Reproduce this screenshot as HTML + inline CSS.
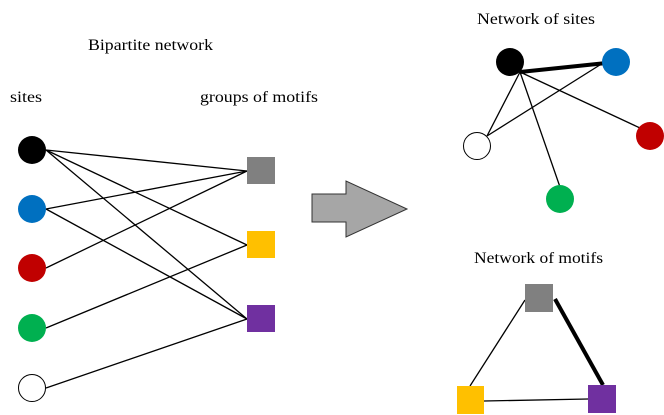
<!DOCTYPE html>
<html><head><style>html,body{margin:0;padding:0;background:#fff;}svg{display:block}</style></head><body>
<svg width="664" height="415" xmlns="http://www.w3.org/2000/svg" font-family="Liberation Serif, serif" font-size="16" fill="#000">
<text x="88" y="50" textLength="125" lengthAdjust="spacingAndGlyphs">Bipartite network</text>
<text x="10" y="102" textLength="32" lengthAdjust="spacingAndGlyphs">sites</text>
<text x="200" y="102" textLength="118" lengthAdjust="spacingAndGlyphs">groups of motifs</text>
<text x="477" y="24" textLength="118" lengthAdjust="spacingAndGlyphs">Network of sites</text>
<text x="474" y="263" textLength="129" lengthAdjust="spacingAndGlyphs">Network of motifs</text>
<g stroke="#000" stroke-width="1.3">
<line x1="46" y1="150" x2="247" y2="171"/>
<line x1="46" y1="150" x2="247" y2="245"/>
<line x1="46" y1="150" x2="247" y2="319"/>
<line x1="46" y1="209" x2="247" y2="171"/>
<line x1="46" y1="209" x2="247" y2="319"/>
<line x1="46" y1="268" x2="247" y2="171"/>
<line x1="46" y1="328" x2="247" y2="245"/>
<line x1="46" y1="388" x2="247" y2="319"/>
</g>
<circle cx="32" cy="150" r="14" fill="#000"/>
<circle cx="32" cy="209" r="14" fill="#0070c0"/>
<circle cx="32" cy="268" r="14" fill="#c00000"/>
<circle cx="32" cy="328" r="14" fill="#00b050"/>
<circle cx="32" cy="388" r="13.5" fill="#fff" stroke="#000" stroke-width="1"/>
<rect x="247" y="157" width="28" height="27" fill="#808080"/>
<rect x="247" y="231" width="28" height="27" fill="#ffc000"/>
<rect x="247" y="305" width="28" height="27" fill="#7030a0"/>
<polygon points="312,194 346,194 346,181 407,209 346,237 346,222 312,222" fill="#a6a6a6" stroke="#333" stroke-width="1"/>
<g stroke="#000" stroke-width="1.3">
<line x1="520" y1="72" x2="616" y2="62" stroke-width="4"/>
<line x1="520" y1="72" x2="487" y2="136"/>
<line x1="520" y1="72" x2="560" y2="187"/>
<line x1="520" y1="72" x2="640" y2="128"/>
<line x1="603" y1="63" x2="487" y2="136"/>
</g>
<circle cx="510" cy="62" r="14" fill="#000"/>
<circle cx="616" cy="62" r="14" fill="#0070c0"/>
<circle cx="650" cy="136" r="14" fill="#c00000"/>
<circle cx="477" cy="146" r="13.5" fill="#fff" stroke="#000" stroke-width="1"/>
<circle cx="560" cy="199" r="14" fill="#00b050"/>
<g stroke="#000">
<line x1="525" y1="300" x2="470" y2="386" stroke-width="1.3"/>
<line x1="555" y1="299" x2="603" y2="385" stroke-width="4"/>
<line x1="484" y1="401" x2="588" y2="399" stroke-width="1.3"/>
</g>
<rect x="525" y="284" width="28" height="28" fill="#808080"/>
<rect x="457" y="386" width="27" height="28" fill="#ffc000"/>
<rect x="588" y="385" width="28" height="28" fill="#7030a0"/>
</svg>
</body></html>
